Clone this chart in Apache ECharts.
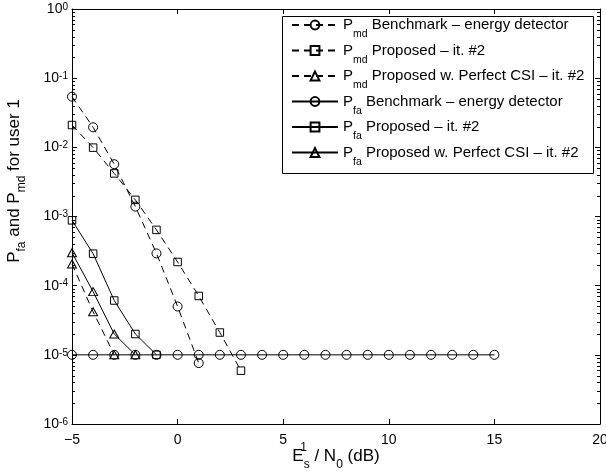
<!DOCTYPE html>
<html>
<head>
<meta charset="utf-8">
<script src="https://cdn.jsdelivr.net/npm/echarts@6/dist/echarts.min.js"></script>
<style>html,body{margin:0;padding:0;background:#fff}#c{width:606px;height:474px}</style>
</head>
<body>
<div id="c"></div>
<script>
// ---- data ----
const xPmdBench = [-5, -4, -3, -2, -1, 0, 1];
const pmdBench = [0.054, 0.0195, 0.0057, 0.00139, 0.000293, 5.0e-5, 7.6e-6];
const xPmdProp = [-5, -4, -3, -2, -1, 0, 1, 2, 3];
const pmdProp = [0.021, 0.0099, 0.0042, 0.00174, 6.4e-4, 2.2e-4, 7.1e-5, 2.1e-5, 5.9e-6];
const xPmdCSI = [-5, -4, -3];
const pmdCSI = [2.06e-4, 4.2e-5, 1e-5];
const xPfaBench = [-5, -4, -3, -2, -1, 0, 1, 2, 3, 4, 5, 6, 7, 8, 9, 10, 11, 12, 13, 14, 15];
const pfaBench = [1e-5, 1e-5, 1e-5, 1e-5, 1e-5, 1e-5, 1e-5, 1e-5, 1e-5, 1e-5, 1e-5, 1e-5, 1e-5, 1e-5, 1e-5, 1e-5, 1e-5, 1e-5, 1e-5, 1e-5, 1e-5];
const xPfaProp = [-5, -4, -3, -2, -1];
const pfaProp = [8.8e-4, 2.9e-4, 6.1e-5, 2.0e-5, 1e-5];
const xPfaCSI = [-5, -4, -3, -2];
const pfaCSI = [3.0e-4, 8.2e-5, 2.0e-5, 1e-5];

const seriesNames = [
  'Pmd Benchmark – energy detector',
  'Pmd Proposed – it. #2',
  'Pmd Proposed w. Perfect CSI – it. #2',
  'Pfa Benchmark – energy detector',
  'Pfa Proposed – it. #2',
  'Pfa Proposed w. Perfect CSI – it. #2'
];
const xTickMin = -5, xTickMax = 20, xTickStep = 5;
const yMin = 1e-6, yMax = 1;
// log-axis minor tick positions (2..9 x 10^k)
const minorTickValues = [];
for (let e = -6; e < 0; e++) for (let m = 2; m <= 9; m++) minorTickValues.push(m * Math.pow(10, e));

const FONT = '"Liberation Sans", Arial, Helvetica, sans-serif';
const pairs = (xs, ys) => xs.map((x, i) => [x, ys[i]]);

function mkSeries(name, xs, ys, symbol, size, dashed) {
  return {
    name, type: 'line', data: pairs(xs, ys),
    symbol, symbolSize: size, showSymbol: true,
    lineStyle: { color: '#000', width: 1, type: dashed ? [7, 5] : 'solid' },
    itemStyle: { color: 'rgba(0,0,0,0)', borderColor: '#000', borderWidth: 1 },
    emphasis: { disabled: true },
    z: 2
  };
}

const chart = echarts.init(document.getElementById('c'), null, { renderer: 'canvas' });
const axisCommonY = {
  type: 'log', logBase: 10, min: yMin, max: yMax, splitNumber: 6,
  axisLine: { show: true, onZero: false, lineStyle: { color: '#000', width: 1 } },
  axisTick: { show: true, inside: true, length: 5, lineStyle: { color: '#000', width: 1 } },
  splitLine: { show: false }
};
const axisCommonX = {
  type: 'value', min: xTickMin, max: xTickMax, interval: xTickStep,
  axisLine: { show: true, onZero: false, lineStyle: { color: '#000', width: 1 } },
  axisTick: { show: true, inside: true, length: 5, lineStyle: { color: '#000', width: 1 } },
  splitLine: { show: false }
};

const option = {
  animation: false,
  backgroundColor: '#fff',
  textStyle: { fontFamily: FONT },
  grid: { left: 72, right: 6, top: 9, bottom: 50, containLabel: false, outerBoundsMode: 'none' },
  xAxis: [
    Object.assign({}, axisCommonX, {
      position: 'bottom',
      axisLabel: { color: '#000', fontSize: 14, fontFamily: FONT, margin: 9,
        formatter: v => (v < 0 ? '−' + (-v) : String(v)) },
      name: 'E{supz|1}{sub|s} / N{sub|0} (dB)',
      nameLocation: 'middle', nameGap: 17, nameMoveOverlap: false,
      nameTextStyle: {
        color: '#000', fontSize: 17, fontFamily: FONT, lineHeight: 30,
        rich: {
          supz: { fontSize: 12, fontFamily: FONT, color: '#000', width: 0, lineHeight: 14, verticalAlign: 'top', padding: [1, 0, 0, 0] },
          sub: { fontSize: 12, fontFamily: FONT, color: '#000', lineHeight: 12, verticalAlign: 'bottom' }
        }
      }
    }),
    Object.assign({}, axisCommonX, { position: 'top', axisLabel: { show: false } })
  ],
  yAxis: [
    Object.assign({}, axisCommonY, {
      position: 'left',
      axisLabel: {
        color: '#000', fontSize: 14, fontFamily: FONT, margin: 4,
        formatter: v => { const e = Math.round(Math.log10(v)); return '10{sup|' + (e < 0 ? '-' + (-e) : e) + '}'; },
        rich: { sup: { fontSize: 10, fontFamily: FONT, color: '#000', verticalAlign: 'top', lineHeight: 12 } }
      }
    }),
    Object.assign({}, axisCommonY, { position: 'right', axisLabel: { show: false } })
  ],
  legend: {
    data: seriesNames,
    orient: 'vertical',
    left: 291, top: 10,
    padding: 0,
    itemWidth: 46, itemHeight: 11, itemGap: -4.5, itemTextGap: 4,
    borderWidth: 0,
    backgroundColor: 'rgba(0,0,0,0)',
    selectedMode: false,
    z: 5,
    textStyle: {
      color: '#000', fontSize: 15, fontFamily: FONT, lineHeight: 30,
      rich: { sub: { fontSize: 10.5, fontFamily: FONT, color: '#000', lineHeight: 12, verticalAlign: 'bottom' } }
    },
    formatter: name => name.replace(/^P(md|fa) /, 'P{sub|$1} ')
  },
  graphic: [
    { type: 'rect', shape: { x: 282.5, y: 16.5, width: 311, height: 157 },
      style: { fill: '#fff', stroke: '#000', lineWidth: 1 }, z: 4, silent: true },
    { type: 'text', x: 14, y: 181, rotation: Math.PI / 2, z: 5, silent: true,
      style: {
        text: 'P{sub|fa} and P{sub|md} for user 1',
        fill: '#000', fontSize: 17, fontFamily: FONT, align: 'center', verticalAlign: 'middle',
        rich: { sub: { fontSize: 12, fontFamily: FONT, fill: '#000', verticalAlign: 'bottom', lineHeight: 12 } },
        lineHeight: 28
      } }
  ],
  series: [
    mkSeries(seriesNames[0], xPmdBench, pmdBench, 'circle', 9, true),
    mkSeries(seriesNames[1], xPmdProp, pmdProp, 'rect', 7.5, true),
    mkSeries(seriesNames[2], xPmdCSI, pmdCSI, 'triangle', [9, 8], true),
    mkSeries(seriesNames[3], xPfaBench, pfaBench, 'circle', 9, false),
    mkSeries(seriesNames[4], xPfaProp, pfaProp, 'rect', 7.5, false),
    mkSeries(seriesNames[5], xPfaCSI, pfaCSI, 'triangle', [9, 8], false),
    {
      type: 'custom', silent: true, clip: false, z: 3,
      data: minorTickValues.map(v => [xTickMin, v]),
      renderItem: (params, api) => {
        const v = api.value(1);
        const l = api.coord([xTickMin, v]);
        const r = api.coord([xTickMax, v]);
        const y = Math.round(l[1]) + 0.5;
        return { type: 'group', children: [
          { type: 'line', shape: { x1: l[0], y1: y, x2: l[0] + 3, y2: y }, style: { stroke: '#000', lineWidth: 1 } },
          { type: 'line', shape: { x1: r[0] - 3, y1: y, x2: r[0], y2: y }, style: { stroke: '#000', lineWidth: 1 } }
        ] };
      }
    }
  ]
};
chart.setOption(option);
</script>
</body>
</html>
